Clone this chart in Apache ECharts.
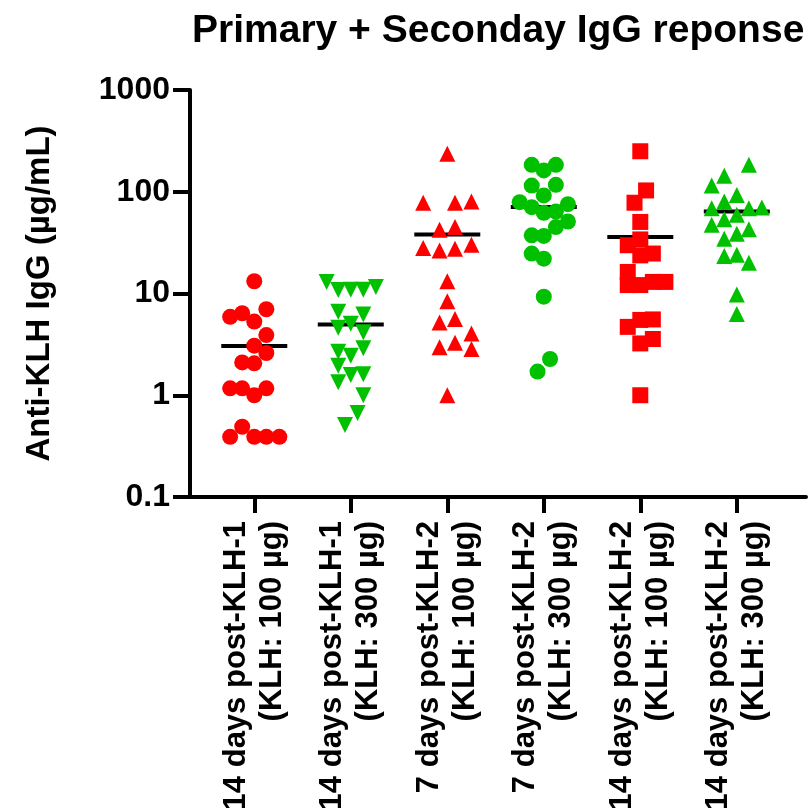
<!DOCTYPE html>
<html>
<head>
<meta charset="utf-8">
<title>Primary + Seconday IgG reponse</title>
<script src="https://cdn.jsdelivr.net/npm/echarts@6/dist/echarts.min.js"></script>
<style>
  html, body { margin: 0; padding: 0; background: #fff; }
  #main { width: 808px; height: 808px; }
</style>
</head>
<body>
<div id="main"></div>
<script>
// groups on the x axis
var categories = [
  '14 days post-KLH-1\n(KLH: 100 µg)',
  '14 days post-KLH-1\n(KLH: 300 µg)',
  '7 days post-KLH-2\n(KLH: 100 µg)',
  '7 days post-KLH-2\n(KLH: 300 µg)',
  '14 days post-KLH-2\n(KLH: 100 µg)',
  '14 days post-KLH-2\n(KLH: 300 µg)'
];
var yTicks = [0.1, 1, 10, 100, 1000];

// anti-KLH IgG values (µg/mL) per animal, and the sideways spread of each dot
var g1Values = [13.2, 5.9, 6.4, 7.0, 5.3, 3.9, 3.07, 2.6, 2.1, 2.06, 1.17, 1.17, 1.17, 1.0, 0.49, 0.39, 0.39, 0.39, 0.39];
var g1Jitter = [0, -0.25, -0.125, 0.125, 0, 0.125, 0, 0.125, -0.125, 0, -0.25, -0.125, 0.125, 0, -0.125, -0.25, 0, 0.125, 0.26];

var g2Values = [13.0, 10.8, 10.9, 10.9, 11.6, 6.6, 6.2, 5.05, 4.6, 4.15, 2.68, 2.45, 2.89, 1.95, 1.58, 1.61, 1.34, 1.0, 0.67, 0.51];
var g2Jitter = [-0.25, -0.13, 0, 0.13, 0.26, -0.13, 0.13, 0, -0.13, 0.13, -0.13, 0, 0.13, -0.13, 0, 0.13, -0.13, 0.13, 0.07, -0.06];

var g3Values = [236, 78, 78, 80, 42.4, 45, 28, 26.4, 27.6, 30.2, 13.2, 8.4, 5.2, 5.6, 4.05, 2.96, 3.28, 2.84, 1.0];
var g3Jitter = [0, -0.25, 0.08, 0.25, -0.08, 0.08, -0.25, -0.08, 0.08, 0.25, 0, 0, -0.08, 0.08, 0.25, -0.08, 0.08, 0.25, 0];

var g4Values = [184, 184, 162, 115, 117, 92, 79, 75.5, 70.6, 62, 64, 51, 45, 37.3, 36.8, 24.7, 22, 9.3, 2.27, 1.71];
var g4Jitter = [-0.125, 0.125, 0, -0.125, 0.125, 0, -0.25, 0.25, -0.125, 0, 0.125, 0.25, 0.125, -0.125, 0, -0.125, 0, 0, 0.065, -0.065];

var g5Values = [250, 103, 78, 50.5, 34, 29.8, 23.7, 24.7, 16.3, 12.1, 12.1, 13, 13, 5.5, 5.56, 4.7, 3.57, 3.23, 1.0];
var g5Jitter = [0, 0.06, -0.06, 0, 0, -0.13, 0, 0.13, -0.13, -0.13, 0, 0.13, 0.26, 0, 0.13, -0.13, 0.13, 0, 0];

var g6Values = [184, 144, 115, 93, 80, 69, 69, 70, 59.5, 53.6, 47.5, 42.7, 38.7, 34.6, 23.4, 24.1, 20.1, 9.8, 6.3];
var g6Jitter = [0.125, -0.13, -0.26, 0, -0.13, -0.26, 0.125, 0.26, 0, -0.13, -0.26, 0.125, 0, -0.13, -0.13, 0, 0.125, 0, 0];

// median of each group
var medians = [3.04, 4.97, 38.1, 70.8, 36, 64];

var RED = '#ff0000';
var GREEN = '#00c000';
var FONT = '"Liberation Sans", Arial, Helvetica, sans-serif';

function toPoints(index, values, jitter) {
  return values.map(function (v, i) {
    return [index + jitter[i], v];
  });
}

function dots(index, values, jitter, color, symbol, rotate) {
  return {
    type: 'scatter',
    data: toPoints(index, values, jitter),
    symbol: symbol,
    symbolSize: 16,
    symbolRotate: rotate || 0,
    itemStyle: { color: color, opacity: 1 },
    z: 3,
    silent: true
  };
}

var chart = echarts.init(document.getElementById('main'));

var option = {
  animation: false,
  backgroundColor: '#fff',
  title: {
    text: 'Primary + Seconday IgG reponse',
    left: 192,
    top: 12,
    padding: 0,
    textStyle: { fontFamily: FONT, fontWeight: 'bold', fontSize: 39, color: '#000' }
  },
  // labels run off the bottom edge in the original, so do not let the grid shrink
  grid: { left: 190, right: 2, top: 90, bottom: 311, containLabel: false, outerBoundsMode: 'none' },
  xAxis: {
    type: 'value',
    min: -0.666,
    max: 5.717,
    splitLine: { show: false },
    axisLine: { onZero: false, lineStyle: { color: '#000', width: 4 } },
    axisTick: {
      customValues: [0, 1, 2, 3, 4, 5],
      length: 16,
      lineStyle: { color: '#000', width: 4 }
    },
    axisLabel: {
      customValues: [0, 1, 2, 3, 4, 5],
      rotate: 90,
      margin: 24,
      fontFamily: FONT,
      fontWeight: 'bold',
      fontSize: 31,
      lineHeight: 36,
      color: '#000',
      formatter: function (v) { return categories[Math.round(v)]; }
    }
  },
  yAxis: {
    type: 'log',
    logBase: 10,
    min: yTicks[0],
    max: yTicks[yTicks.length - 1],
    name: 'Anti-KLH IgG (µg/mL)',
    nameLocation: 'middle',
    nameRotate: 90,
    nameGap: 134,
    nameTextStyle: { fontFamily: FONT, fontWeight: 'bold', fontSize: 33, color: '#000' },
    splitLine: { show: false },
    axisLine: { onZero: false, lineStyle: { color: '#000', width: 4 } },
    axisTick: { length: 17, lineStyle: { color: '#000', width: 4 } },
    axisLabel: {
      margin: 20,
      fontFamily: FONT,
      fontWeight: 'bold',
      fontSize: 32,
      color: '#000',
      formatter: function (v) { return String(v); }
    }
  },
  series: [
    {
      // median bars
      type: 'scatter',
      data: medians.map(function (m, i) { return [i, m]; }),
      symbol: 'rect',
      symbolSize: [66, 4],
      itemStyle: { color: '#000', opacity: 1 },
      z: 2,
      silent: true
    },
    dots(0, g1Values, g1Jitter, RED, 'circle'),
    dots(1, g2Values, g2Jitter, GREEN, 'triangle', 180),
    dots(2, g3Values, g3Jitter, RED, 'triangle'),
    dots(3, g4Values, g4Jitter, GREEN, 'circle'),
    dots(4, g5Values, g5Jitter, RED, 'rect'),
    dots(5, g6Values, g6Jitter, GREEN, 'triangle')
  ]
};

chart.setOption(option);
</script>
</body>
</html>
